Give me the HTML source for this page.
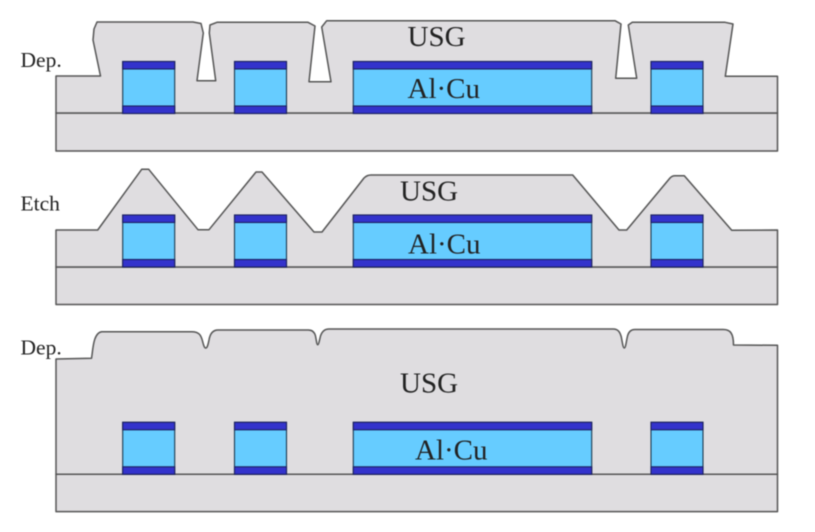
<!DOCTYPE html>
<html>
<head>
<meta charset="utf-8">
<style>
html,body{margin:0;padding:0;background:#fff;width:815px;height:532px;overflow:hidden}
svg{display:block;filter:blur(.45px)}
text{font-family:"Liberation Serif",serif;fill:#222}
.s{fill:#dfdde0;stroke:#555;stroke-width:1.5;stroke-linejoin:round}
.a{font-size:29px}
.l{font-size:21.5px}
.m{fill:#66ccff;stroke:#1c3a50;stroke-width:1.1}
.c{fill:#3333cc;stroke:#1c2060;stroke-width:1.1}
</style>
</head>
<body>
<svg width="815" height="532" viewBox="0 0 815 532" xmlns="http://www.w3.org/2000/svg">
<defs>
<g id="b1"><rect class="m" x="0" y="0" width="52" height="52"/><rect class="c" x="0" y="0" width="52" height="7.5"/><rect class="c" x="0" y="44.5" width="52" height="7.5"/></g>
<g id="b2"><rect class="m" x="0" y="0" width="238.4" height="52"/><rect class="c" x="0" y="0" width="238.4" height="7.5"/><rect class="c" x="0" y="44.5" width="238.4" height="7.5"/></g>
</defs>

<!-- Panel 1 -->
<rect class="s" x="56" y="113" width="721.5" height="38"/>
<path class="s" d="M56 113V76H100.5L93 40L94 29L97 22H193L201 23.5L203.3 33L197 80.7H215.7L209.3 33L210 25L217 22.3H308L315 26L309 81.7H331L321.7 27L326.7 20.7H615L621 24L615.7 78.3H636.7L628.3 25L632.3 22.3H725L733 24L725.3 76.3H777.5V113Z"/>
<use href="#b1" x="122.7" y="61.5"/>
<use href="#b1" x="234.5" y="61.5"/>
<use href="#b2" x="353.3" y="61.5"/>
<use href="#b1" x="651" y="61.5"/>
<text class="l" x="20.5" y="67">Dep.</text>
<text class="a" x="407.5" y="46">USG</text>
<text class="a" x="407.5" y="98">Al·Cu</text>

<!-- Panel 2 -->
<rect class="s" x="56" y="267" width="721.5" height="37.5"/>
<path class="s" d="M56 267V230H97.7L141.7 169.3H148.7L198 229.7H209L256 172H262L314 232H322L364 178Q367 175 371 175H572.7L619 230H626.7L670 178Q672 175.7 675 175.7H684.3L731.7 230.3L777.5 230V267Z"/>
<use href="#b1" x="122.7" y="215"/>
<use href="#b1" x="234.5" y="215"/>
<use href="#b2" x="353.3" y="215"/>
<use href="#b1" x="651" y="215"/>
<text class="l" x="20.5" y="210.7">Etch</text>
<text class="a" x="400" y="200.7">USG</text>
<text class="a" x="408" y="253.3">Al·Cu</text>

<!-- Panel 3 -->
<rect class="s" x="56" y="474.3" width="721.5" height="37.3"/>
<path class="s" d="M56 474.3V359L91.5 358.3C93 350 93 333 101.7 331.7H191.7C199 331.7 201 335 202.5 341C203.5 345 204.3 348 205.7 348C207.2 348 208 345 209 340C210 334 212.5 330 218 330H308.3C312.5 330 314.5 332 315.5 336C316.3 340 316.8 344.7 317.7 344.7C318.7 344.7 319.5 340 320.5 336C322 331.5 324.5 329 329 329H613.3C618 329 620 332 621.3 337C622.3 342 623 348 624.3 348C625.6 348 626.2 342 627.3 337C628.3 332 630.5 329.5 635 329.5H723.3C730 329.5 733.5 333 733.5 345L777.5 345.3V474.3Z"/>
<use href="#b1" x="122.7" y="422.3"/>
<use href="#b1" x="234.5" y="422.3"/>
<use href="#b2" x="353.3" y="422.3"/>
<use href="#b1" x="651" y="422.3"/>
<text class="l" x="20.5" y="354.3">Dep.</text>
<text class="a" x="400" y="392.3">USG</text>
<text class="a" x="415" y="459.3">Al·Cu</text>
</svg>
</body>
</html>
